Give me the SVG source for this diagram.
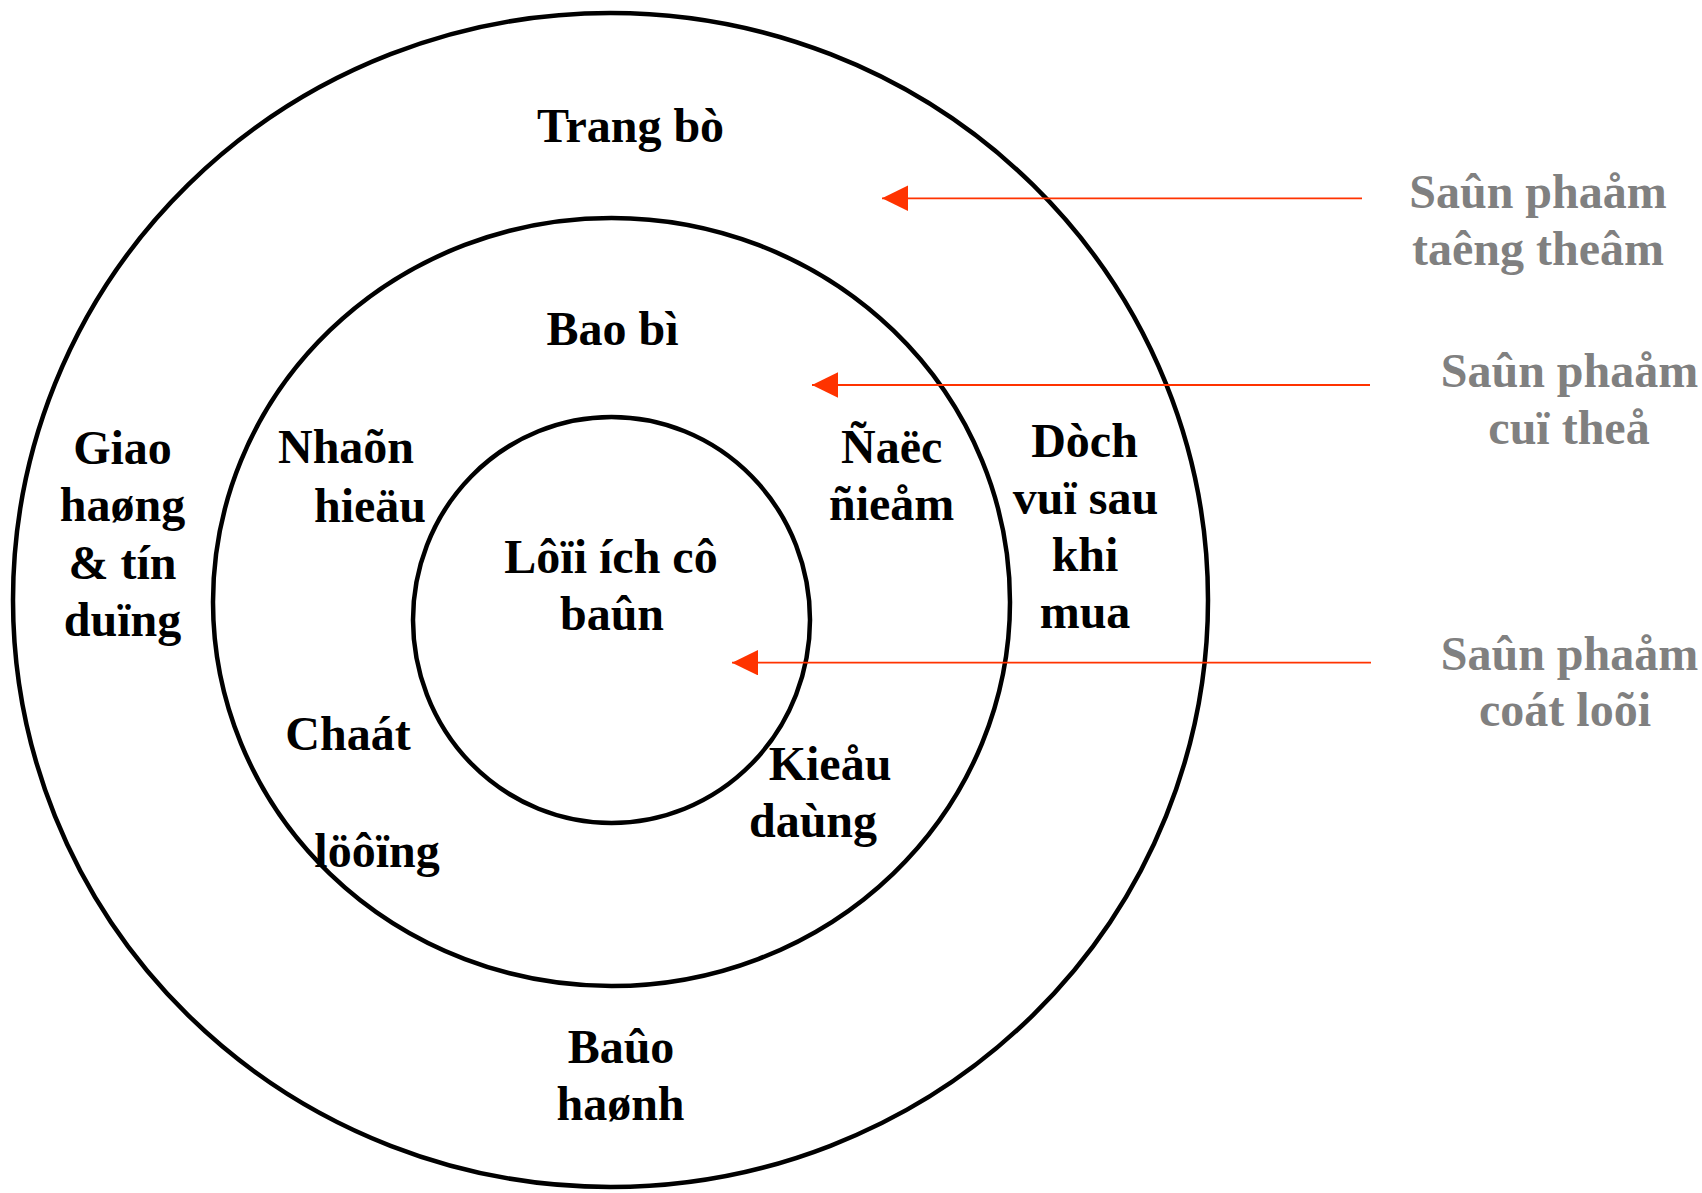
<svg xmlns="http://www.w3.org/2000/svg" width="1702" height="1193" viewBox="0 0 1702 1193">
  <style>
    .ring { fill: none; stroke: #000; stroke-width: 4.5; }
    .lbl { font-family: "Liberation Serif", "Times New Roman", serif; font-weight: bold; font-size: 48px; fill: #000; text-anchor: middle; }
    .lvl { font-family: "Liberation Serif", "Times New Roman", serif; font-weight: bold; font-size: 48px; fill: #808080; text-anchor: middle; }
    .ptr { stroke: #FF3300; stroke-width: 1.8; fill: none; }
  </style>
  <defs>
    <marker id="head" markerUnits="userSpaceOnUse" markerWidth="26" markerHeight="26" refX="26" refY="12.7" orient="auto">
      <path d="M0,0 L26,12.7 L0,25.4 Z" fill="#FF3300"/>
    </marker>
  </defs>
  <rect width="1702" height="1193" fill="#fff"/>

  <!-- concentric product levels -->
  <g id="ring-augmented">
    <ellipse class="ring" cx="610.5" cy="600" rx="597.5" ry="587"/>
  </g>
  <g id="ring-actual">
    <ellipse class="ring" cx="611.5" cy="602" rx="398.5" ry="384"/>
  </g>
  <g id="ring-core">
    <ellipse class="ring" cx="611.5" cy="620" rx="198.5" ry="203"/>
  </g>

  <!-- labels inside the rings -->
  <g id="trang-bo"><text class="lbl" x="630.5" y="141.7">Trang bò</text></g>
  <g id="bao-bi"><text class="lbl" x="612.5" y="345">Bao bì</text></g>
  <g id="giao-hang">
    <text class="lbl" x="122.5" y="463.5">Giao</text>
    <text class="lbl" x="122.5" y="521">haøng</text>
    <text class="lbl" x="122.5" y="578.5">&amp; tín</text>
    <text class="lbl" x="122.5" y="636">duïng</text>
  </g>
  <g id="nhan-hieu">
    <text class="lbl" x="346" y="463.3">Nhaõn</text>
    <text class="lbl" x="370" y="521.7">hieäu</text>
  </g>
  <g id="chat-luong">
    <text class="lbl" x="348" y="750">Chaát</text>
    <text class="lbl" x="377" y="867">löôïng</text>
  </g>
  <g id="loi-ich">
    <text class="lbl" x="611" y="573.3">Lôïi ích cô</text>
    <text class="lbl" x="612" y="630">baûn</text>
  </g>
  <g id="kieu-dang">
    <text class="lbl" x="830" y="780">Kieåu</text>
    <text class="lbl" x="813" y="836.7">daùng</text>
  </g>
  <g id="dac-diem">
    <text class="lbl" x="891.7" y="463.3">Ñaëc</text>
    <text class="lbl" x="891.7" y="520">ñieåm</text>
  </g>
  <g id="dich-vu">
    <text class="lbl" x="1084.5" y="456.7">Dòch</text>
    <text class="lbl" x="1085.5" y="513.5">vuï sau</text>
    <text class="lbl" x="1085" y="571">khi</text>
    <text class="lbl" x="1085" y="628.3">mua</text>
  </g>
  <g id="bao-hanh">
    <text class="lbl" x="621" y="1063.3">Baûo</text>
    <text class="lbl" x="620.5" y="1120">haønh</text>
  </g>

  <!-- level captions -->
  <g id="cap-augmented">
    <text class="lvl" x="1538" y="208">Saûn phaåm</text>
    <text class="lvl" x="1538" y="265">taêng theâm</text>
  </g>
  <g id="cap-actual">
    <text class="lvl" x="1569.5" y="387">Saûn phaåm</text>
    <text class="lvl" x="1569" y="444">cuï theå</text>
  </g>
  <g id="cap-core">
    <text class="lvl" x="1569.5" y="670">Saûn phaåm</text>
    <text class="lvl" x="1565" y="726">coát loõi</text>
  </g>

  <!-- pointers from captions to rings -->
  <g id="connectors">
    <line class="ptr" x1="1362" y1="198.3" x2="882" y2="198.3" marker-end="url(#head)"/>
    <line class="ptr" x1="1370" y1="385" x2="812" y2="385" marker-end="url(#head)"/>
    <line class="ptr" x1="1371" y1="662.7" x2="732" y2="662.7" marker-end="url(#head)"/>
  </g>
</svg>
